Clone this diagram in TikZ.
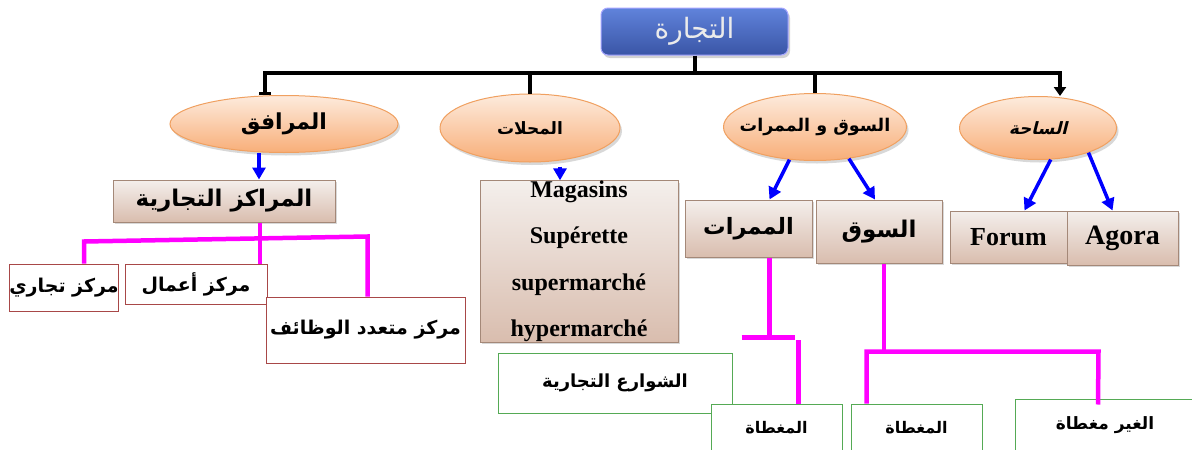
\documentclass[tikz,border=0pt]{standalone}
\usepackage{fontspec}
\setmainfont{Liberation Serif}
\newfontfamily\arabicfont[Script=Arabic]{DejaVu Sans}
\newfontfamily\arabicslant[Script=Arabic,FakeSlant=0.25]{DejaVu Sans}
\TeXXeTstate=1
\usetikzlibrary{shapes.geometric,shadows,arrows.meta}
\newcommand{\artext}[2][20]{{\fontsize{#1}{#1}\arabicfont\bfseries\beginR #2\endR}}

\tikzset{
  mainbox/.style={rounded corners=7pt, draw=blue!35!white, line width=1pt,
    top color=blueA, bottom color=blueB, text=white!92!black,
    drop shadow={opacity=.35,shadow xshift=2pt,shadow yshift=-3pt}},
  oval/.style={ellipse, draw=orangeC, line width=1pt, top color=orangeA,
    bottom color=orangeB, inner sep=0pt,
    drop shadow={opacity=.3,shadow xshift=2pt,shadow yshift=-3pt}},
  brownbox/.style={draw=brownC, line width=1pt, top color=brownA,
    bottom color=brownB, inner sep=0pt,
    drop shadow={opacity=.3,shadow xshift=2pt,shadow yshift=-2pt}},
  redbox/.style={draw=redC, line width=1pt, fill=white, inner sep=0pt},
  greenbox/.style={draw=greenC, line width=1pt, fill=white, inner sep=0pt},
  blackline/.style={line width=4pt, black},
  bluearrow/.style={line width=3.5pt, blue, -{Triangle[length=12pt,width=13pt]}},
  pinkline/.style={line width=4.5pt, pinkC}
}

\begin{document}
\begin{tikzpicture}[x=1pt,y=-1pt]
  \definecolor{blueA}{HTML}{6083DB}
  \definecolor{blueB}{HTML}{3A55A6}
  \definecolor{orangeA}{HTML}{FDEBDD}
  \definecolor{orangeB}{HTML}{F8AE78}
  \definecolor{orangeC}{HTML}{F0A060}
  \definecolor{brownA}{HTML}{F4EFEC}
  \definecolor{brownB}{HTML}{D9BDAE}
  \definecolor{brownC}{HTML}{A48878}
  \definecolor{redC}{HTML}{A84848}
  \definecolor{greenC}{HTML}{55AA55}
  \definecolor{pinkC}{HTML}{FF00FF}
  \useasboundingbox[fill=white] (0,0) rectangle (1192,450);

  % top
  \node[mainbox, minimum width=187, minimum height=47] (top) at (694.5,31.5)
    {{\fontsize{28}{28}\arabicfont\beginR التجارة\endR}};

  % ellipses
  \node[oval, minimum width=228, minimum height=57] (marafiq) at (284,124)
    {\makebox[0pt]{\artext[22]{المرافق}}};
  \node[oval, minimum width=180, minimum height=68] (mahallat) at (530,128)
    {\makebox[0pt]{\artext[17]{المحلات}}};
  \node[oval, minimum width=183, minimum height=67] (souqmam) at (815,127)
    {\makebox[0pt]{\artext[17.5]{السوق و الممرات}}};
  \node[oval, minimum width=157, minimum height=63] (saha) at (1038,128)
    {\makebox[0pt]{\fontsize{17}{17}\arabicslant\bfseries\beginR الساحة\endR}};

  % brown boxes
  \node[brownbox, minimum width=222, minimum height=42] (centres) at (224,201) {\artext[23]{المراكز التجارية}};
  \node[brownbox, minimum width=198, minimum height=161, align=center,
    font=\fontsize{24}{46.5}\selectfont\bfseries] (magasins) at (579,261.5)
    {Magasins\\Supérette\\supermarché\\hypermarché};
  \node[brownbox, minimum width=127, minimum height=57] (mamarrat) at (748.5,228.5) {\artext[22.5]{الممرات}};
  \node[brownbox, minimum width=126, minimum height=63] (souq) at (879,231.5) {\artext[23]{السوق}};
  \node[brownbox, minimum width=117, minimum height=52, font=\fontsize{26}{26}\selectfont\bfseries] (forum) at (1008.5,237) {Forum};
  \node[brownbox, minimum width=111, minimum height=54, font=\fontsize{28}{28}\selectfont\bfseries] (agora) at (1122.5,238) {Agora};

  % red boxes
  \node[redbox, minimum width=108, minimum height=47] (tijari) at (64,287.5) {\artext[19]{مركز تجاري}};
  \node[redbox, minimum width=142, minimum height=40] (aamal) at (196,284) {\artext[19]{مركز أعمال}};
  \node[redbox, minimum width=199, minimum height=66] (mutaaddid) at (365.5,330) {\artext[19]{مركز متعدد الوظائف}};

  % green boxes
  \node[greenbox, minimum width=234, minimum height=60] (shawari) at (615,383) {\artext[18]{الشوارع التجارية}};
  \node[greenbox, minimum width=131, minimum height=48] (mughattaA) at (776.5,428) {\artext[16]{المغطاة}};
  \node[greenbox, minimum width=131, minimum height=48] (mughattaB) at (916.5,428) {\artext[16]{المغطاة}};
  \node[greenbox, minimum width=180, minimum height=53] (ghayr) at (1105,425.5) {\artext[17]{الغير مغطاة}};

  % black tree
  \coordinate (d1) at (265,73);
  \coordinate (d4) at (1060,73);
  \draw[blackline] (top.south) -- (top.south |- d1);
  \draw[blackline, {Bar[width=12pt,line width=3pt]}-{Triangle[length=9pt,width=12pt]}]
    (marafiq.north -| d1) -- (d1) -- (d4) -- (saha.north -| d4);
  \draw[blackline] (mahallat.north) -- (mahallat.north |- d1);
  \draw[blackline] (souqmam.north) -- (souqmam.north |- d1);

  % blue arrows
  \draw[bluearrow] ([xshift=-25pt]marafiq.south) -- ([xshift=35pt]centres.north);
  \draw[bluearrow] ([xshift=30pt,yshift=-4pt]mahallat.south) -- ([xshift=-19pt]magasins.north);
  \draw[bluearrow] (souqmam.232) -- ([xshift=21pt]mamarrat.north);
  \draw[bluearrow] (souqmam.317) -- ([xshift=-4pt]souq.north);
  \draw[bluearrow] (saha.292) -- ([xshift=16pt]forum.north);
  \draw[bluearrow] (saha.334) -- ([xshift=-10pt]agora.north);

  % pink lines
  \draw[pinkline] ([xshift=36pt]centres.south) -- ([xshift=64pt]aamal.north);
  \draw[pinkline] ([xshift=20pt]tijari.north) -- ++(0,-22)
    -- ([xshift=2pt,yshift=60pt]mutaaddid.north) -- ([xshift=2pt]mutaaddid.north);
  \draw[pinkline] ([xshift=21pt]mamarrat.south) -- ++(0,80) ++(-28,0) -- ++(53,0);
  \draw[pinkline] ([xshift=22pt]mughattaA.north) -- ++(0,-64);
  \draw[pinkline] ([xshift=5pt]souq.south) -- ++(0,88);
  \draw[pinkline] ([xshift=-50pt]mughattaB.north) -- ++(0,-52) -- ++(232,0)
    -- ([xshift=-7pt,yshift=-6pt]ghayr.north);
\end{tikzpicture}
\end{document}
